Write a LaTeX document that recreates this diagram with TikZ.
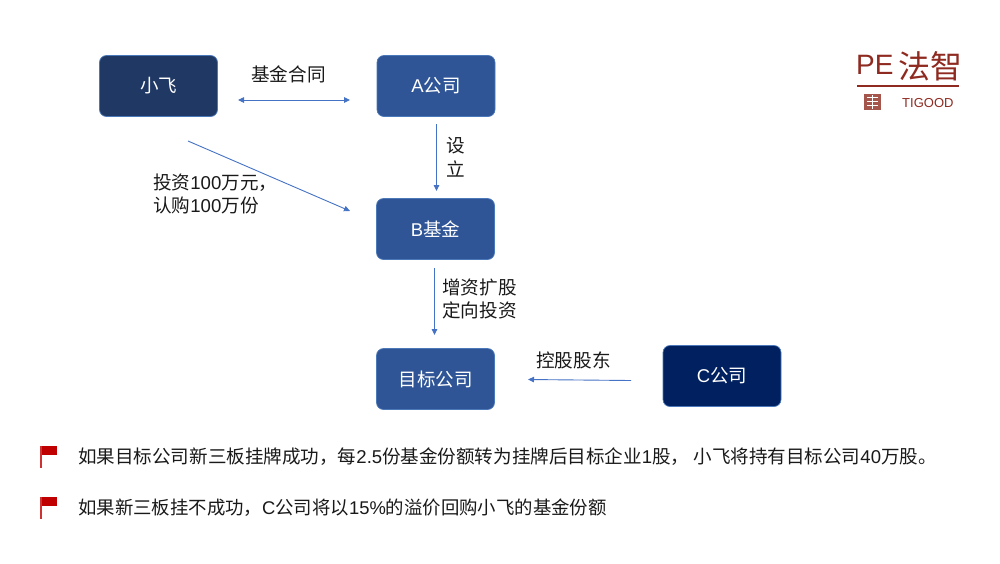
\documentclass[tikz,border=0pt]{standalone}
\usepackage{fontspec}
\setmainfont{Noto Sans CJK SC}
\newfontfamily\latinsans{Liberation Sans}
\definecolor{navyA}{HTML}{1F3864}
\definecolor{blueB}{HTML}{2F5597}
\definecolor{navyC}{HTML}{002060}
\definecolor{edgeB}{HTML}{4A78B8}
\definecolor{arrowc}{HTML}{4472C4}
\definecolor{logored}{HTML}{8E2A20}
\definecolor{flagred}{HTML}{C00000}
\usetikzlibrary{arrows.meta}
\tikzset{
  box/.style={draw=edgeB,line width=0.7pt,rounded corners=7pt,minimum width=118pt,minimum height=61pt,inner sep=0pt,text=white,font=\fontsize{18.5}{20}\selectfont},
  lab/.style={inner sep=0pt,text=black!90,font=\fontsize{18.6}{23.5}\selectfont,align=left},
  note/.style={inner sep=0pt,anchor=west,text=black!90,font=\fontsize{18.55}{20}\selectfont},
  conn/.style={draw=arrowc,line width=0.9pt,-{Triangle[length=6pt,width=5.5pt]}},
  dconn/.style={draw=arrowc,line width=0.9pt,{Triangle[length=6pt,width=5.5pt]}-{Triangle[length=6pt,width=5.5pt]}},
}
\newcommand{\ls}[1]{{\latinsans #1}}
\begin{document}
\begin{tikzpicture}[x=1pt,y=-1pt]
\useasboundingbox (0,0) rectangle (1000,563);
\node[box,fill=navyA] (xf) at (158.5,86) {小飞};
\node[box,fill=blueB] (a) at (436,86) {\ls{A}公司};
\node[box,fill=blueB] (b) at (435.5,229) {\ls{B}基金};
\node[box,fill=blueB] (t) at (435.5,379) {目标公司};
\node[box,fill=navyC] (c) at (722,376) {\ls{C}公司};
\coordinate (c1) at (238,100); \coordinate (c2) at (350,100);
\coordinate (c3) at (188,141); \coordinate (c4) at (350,211);
\coordinate (c5) at (436.5,124); \coordinate (c6) at (436.5,191);
\coordinate (c7) at (434.5,268); \coordinate (c8) at (434.5,335);
\coordinate (c9) at (631,380.5); \coordinate (c10) at (528,379.5);
\draw[dconn] (c1) -- (c2);
\draw[conn] (c3) -- (c4);
\draw[conn] (c5) -- (c6);
\draw[conn] (c7) -- (c8);
\draw[conn] (c9) -- (c10);
\node[lab,anchor=west] (l1) at (251,74) {基金合同};
\node[lab,anchor=west] (l2) at (153,194) {投资\ls{100}万元，\\认购\ls{100}万份};
\node[lab,anchor=west] (l3) at (446,157) {设\\立};
\node[lab,anchor=west] (l4) at (442,299) {增资扩股\\定向投资};
\node[lab,anchor=west] (l5) at (536,360) {控股股东};
\node[note] (n1) at (78,457) {如果目标公司新三板挂牌成功，每\ls{2.5}份基金份额转为挂牌后目标企业\ls{1}股， 小飞将持有目标公司\ls{40}万股。};
\node[note,font=\fontsize{18.4}{20}\selectfont] (n2) at (78,508) {如果新三板挂不成功，\ls{C}公司将以\ls{15\%}的溢价回购小飞的基金份额};
% flags
\foreach \y in {445,496}{
  \fill[flagred!80!white] (40,\y+0.5) rectangle (42.3,\y+23);
  \fill[flagred] (42,\y+0.5) -- (56.7,\y+0.5) -- (56.7,\y+10) -- (42,\y+10) -- cycle;
}
% logo
\node[inner sep=0pt,anchor=west,text=logored,font=\fontsize{28}{30}\selectfont] (pe) at (856,65) {\latinsans PE};
\node[inner sep=0pt,anchor=west,text=logored,font=\fontsize{32}{34}\selectfont] (fz) at (898,66) {法智};
\draw[logored,line width=1.2pt] (857,86) -- (959,86);
\fill[logored!80] (864,94) rectangle (881,110);
\draw[white,line width=0.6pt] (867,97) -- (878,97) (867,101) -- (878,101) (867,105) -- (878,105) (872,95) -- (872,109);
\node[inner sep=0pt,anchor=west,text=logored,font=\latinsans\fontsize{13}{15}\selectfont] (tg) at (902,103) {TIGOOD};
\end{tikzpicture}
\end{document}
